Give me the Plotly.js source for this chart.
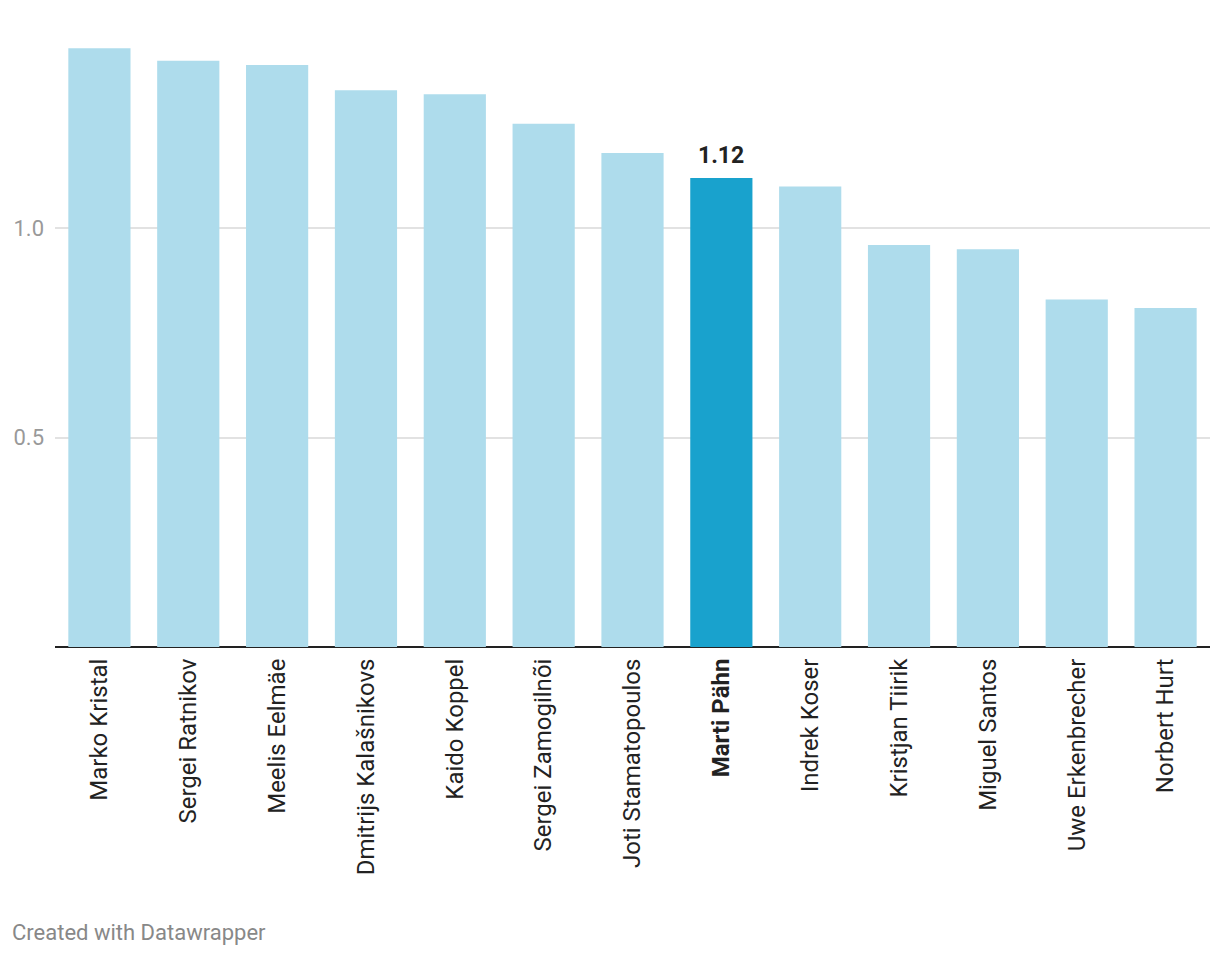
<!DOCTYPE html>
<html>
<head>
<meta charset="utf-8">
<script src="https://cdn.plot.ly/plotly-3.0.1.min.js"></script>
<style>
  html, body { margin: 0; padding: 0; background: #fff; }
  #chart { width: 1220px; height: 958px; }
</style>
</head>
<body>
<div id="chart"></div>
<script>
const names = ["Marko Kristal", "Sergei Ratnikov", "Meelis Eelmäe", "Dmitrijs Kalašnikovs", "Kaido Koppel", "Sergei Zamogilnõi", "Joti Stamatopoulos", "Marti Pähn", "Indrek Koser", "Kristjan Tiirik", "Miguel Santos", "Uwe Erkenbrecher", "Norbert Hurt"];
const values = [1.43, 1.40, 1.39, 1.33, 1.32, 1.25, 1.18, 1.12, 1.10, 0.96, 0.95, 0.83, 0.81];
const highlight = "Marti Pähn";
const yTickVals = [0.5, 1.0];
const yTickText = ["0.5", "1.0"];
const footer = "Created with Datawrapper";

const lightColor = "#aedcec";
const darkColor = "#19a2cd";

const colors = names.map(n => n === highlight ? darkColor : lightColor);
const tickText = names.map(n => n === highlight ? "<b>" + n + "</b>" : n);
const hi = names.indexOf(highlight);

const W = 1220, H = 958;
const M = { l: 55, r: 10, t: 19, b: 311 };
const plotW = W - M.l - M.r, plotH = H - M.t - M.b;

const trace = {
  type: "bar",
  x: names,
  y: values,
  marker: { color: colors },
  hoverinfo: "x+y"
};

const layout = {
  width: W, height: H,
  margin: M,
  paper_bgcolor: "#fff",
  plot_bgcolor: "#fff",
  bargap: 0.3,
  showlegend: false,
  font: { family: "Roboto, sans-serif" },
  xaxis: {
    type: "category",
    tickmode: "array",
    tickvals: names,
    ticktext: tickText,
    tickangle: -90,
    tickfont: { size: 24, color: "#222" },
    ticks: "outside",
    ticklen: 1,
    tickcolor: "rgba(0,0,0,0)",
    showline: false,
    showgrid: false,
    zeroline: false,
    fixedrange: true
  },
  yaxis: {
    range: [0, 1.5],
    tickmode: "array",
    tickvals: yTickVals,
    ticktext: yTickText,
    tickfont: { size: 22, color: "#999" },
    showgrid: true,
    gridcolor: "#e2e2e2",
    gridwidth: 2,
    zeroline: true,
    zerolinecolor: "#222",
    zerolinewidth: 2,
    showline: false,
    ticks: "",
    ticklabelstandoff: 10,
    fixedrange: true
  },
  annotations: [
    {
      x: names[hi], y: values[hi], xref: "x", yref: "y",
      text: "<b>" + values[hi].toFixed(2) + "</b>",
      showarrow: false, yanchor: "bottom", yshift: 7,
      font: { size: 23, color: "#222", family: "Roboto, sans-serif" }
    },
    {
      x: -(M.l - 10) / plotW, y: -(932 - (M.t + plotH)) / plotH,
      xref: "paper", yref: "paper",
      xanchor: "left", yanchor: "middle",
      text: footer, showarrow: false,
      font: { size: 22, color: "#888", family: "Roboto, sans-serif" }
    }
  ]
};

Plotly.newPlot("chart", [trace], layout, { displayModeBar: false, staticPlot: true });
</script>
</body>
</html>
